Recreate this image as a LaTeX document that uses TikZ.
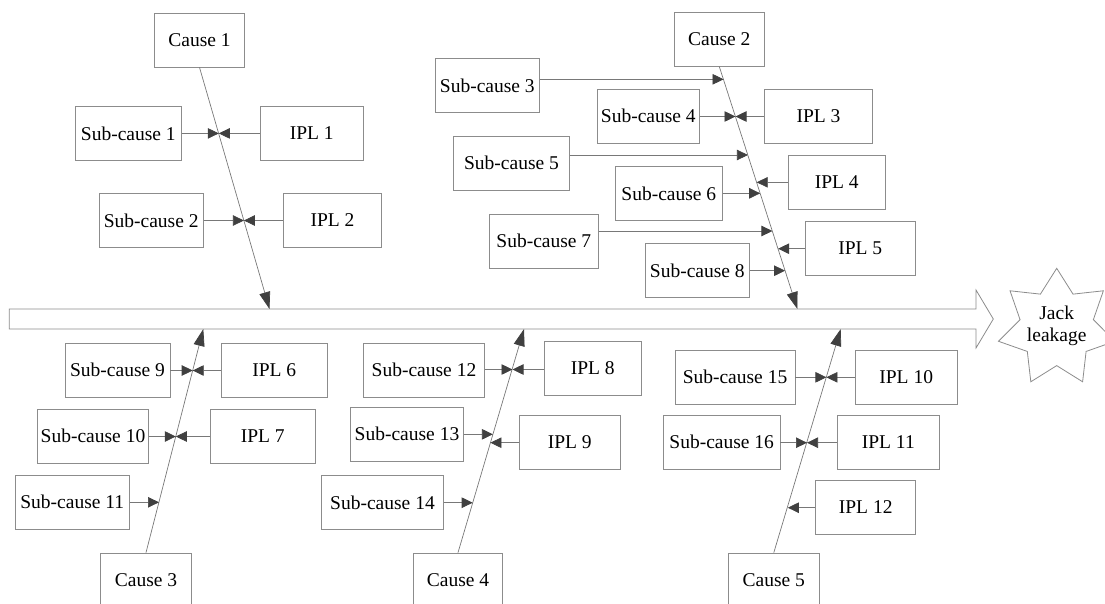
\documentclass[tikz,border=0pt]{standalone}
\usepackage{fontspec}
\setmainfont{Liberation Serif}
\usetikzlibrary{arrows.meta,shapes.geometric}
\definecolor{boxgray}{RGB}{140,140,140}
\definecolor{linegray}{RGB}{120,120,120}
\definecolor{tipgray}{RGB}{64,64,64}
\begin{document}
\begin{tikzpicture}[x=1pt,y=-1pt,
  box/.style={draw=boxgray,line width=0.8pt,minimum height=54pt,inner sep=0pt,
    font=\fontsize{19.5}{22}\selectfont},
  arr/.style={draw=linegray,line width=0.7pt,-{Triangle[length=11pt,width=10.5pt,color=tipgray]}},
  bigarr/.style={draw=linegray,line width=0.7pt,-{Triangle[length=17pt,width=11pt,color=tipgray]}}
]
\useasboundingbox (0,0) rectangle (1105,603);

% spine
\draw[draw=boxgray,line width=0.8pt,fill=white] (9.3,309) -- (976,309) -- (976,290) -- (993.3,319)
  -- (976,348) -- (976,329) -- (9.3,329) -- cycle;

% goal star
\begin{scope}[shift={(1056.7,328)}]
\draw[draw=boxgray,line width=0.8pt,fill=white] (-90:59.7)
  \foreach \k in {0,...,6}{ -- ({-90+\k*51.4286}:59.7) -- ({-64.2857+\k*51.4286}:37.6)} -- cycle;
\end{scope}
\node[align=center,inner sep=0pt,font=\fontsize{19.5}{22}\selectfont] (goal) at (1056.7,326) {Jack\\leakage};

\coordinate (t1) at (269.5,309);
\coordinate (t2) at (797.4,309);
\coordinate (t3) at (203.3,329);
\coordinate (t4) at (524,329);
\coordinate (t5) at (840.7,329);

% upper left
\node[box,minimum width=90.4pt] (c1) at (199.5,40) {Cause 1};
\node[box,minimum width=106.7pt] (s1) at (128.3,133.4) {Sub-cause 1};
\node[box,minimum width=103.3pt] (i1) at (311.7,133.4) {IPL 1};
\node[box,minimum width=104.3pt] (s2) at (151.2,220.5) {Sub-cause 2};
\node[box,minimum width=98.4pt] (i2) at (332.5,220.5) {IPL 2};

% upper right
\node[box,minimum width=90pt] (c2) at (719.3,39.2) {Cause 2};
\node[box,minimum width=104pt] (s3) at (487.3,85.5) {Sub-cause 3};
\node[box,minimum width=102pt] (s4) at (648.3,116.3) {Sub-cause 4};
\node[box,minimum width=108.4pt] (i3) at (818.5,116.3) {IPL 3};
\node[box,minimum width=116.4pt] (s5) at (511.5,163.2) {Sub-cause 5};
\node[box,minimum width=107pt] (s6) at (668.8,193.5) {Sub-cause 6};
\node[box,minimum width=97pt] (i4) at (836.8,182.3) {IPL 4};
\node[box,minimum width=109pt] (s7) at (543.8,241.2) {Sub-cause 7};
\node[box,minimum width=110.3pt] (i5) at (860.2,248.3) {IPL 5};
\node[box,minimum width=104pt] (s8) at (697.3,270.7) {Sub-cause 8};

% lower left
\node[box,minimum width=105pt] (s9) at (117.5,370.3) {Sub-cause 9};
\node[box,minimum width=106.3pt] (i6) at (274.2,370.3) {IPL 6};
\node[box,minimum width=111.4pt] (s10) at (93,436.3) {Sub-cause 10};
\node[box,minimum width=105.3pt] (i7) at (262.7,436.3) {IPL 7};
\node[box,minimum width=114pt] (s11) at (72.3,502.3) {Sub-cause 11};
\node[box,minimum width=90.6pt] (c3) at (146,580) {Cause 3};

% lower middle
\node[box,minimum width=121.4pt] (s12) at (424,370.3) {Sub-cause 12};
\node[box,minimum width=97pt] (i8) at (592.7,368) {IPL 8};
\node[box,minimum width=112.6pt] (s13) at (407,434.2) {Sub-cause 13};
\node[box,minimum width=100.7pt] (i9) at (569.7,442.3) {IPL 9};
\node[box,minimum width=121.6pt] (s14) at (382.5,502.5) {Sub-cause 14};
\node[box,minimum width=89.4pt] (c4) at (458,580) {Cause 4};

% lower right
\node[box,minimum width=120pt] (s15) at (735,377.3) {Sub-cause 15};
\node[box,minimum width=102.3pt] (i10) at (906.2,377.3) {IPL 10};
\node[box,minimum width=116.7pt] (s16) at (721.7,442.3) {Sub-cause 16};
\node[box,minimum width=102pt] (i11) at (888.3,442.3) {IPL 11};
\node[box,minimum width=100pt] (i12) at (865.7,507) {IPL 12};
\node[box,minimum width=91pt] (c5) at (773.8,580) {Cause 5};

% junctions
\coordinate (j1) at (218.8,133.4);
\coordinate (j2) at (243.9,220.5);
\coordinate (j3) at (723.6,79.3);
\coordinate (j4) at (735.5,116.5);
\coordinate (j5) at (747.9,155);
\coordinate (j6) at (760.2,193.3);
\coordinate (j7) at (756.7,182.3);
\coordinate (j8) at (772.4,231);
\coordinate (j9) at (778.1,248.7);
\coordinate (j10) at (785.1,270.7);
\coordinate (j11) at (192.7,370.5);
\coordinate (j12) at (175.8,436.5);
\coordinate (j13) at (159.0,502.3);
\coordinate (j14) at (512.5,369.5);
\coordinate (j15) at (492.9,434.3);
\coordinate (j16) at (490.4,442.7);
\coordinate (j17) at (472.7,502.7);
\coordinate (j18) at (826.4,377.3);
\coordinate (j19) at (807,442.7);
\coordinate (j20) at (787.8,507.7);

% cause lines
\draw[bigarr] (c1.south) -- (t1);
\draw[bigarr] (c2.south) -- (t2);
\draw[bigarr] (c3.north) -- (t3);
\draw[bigarr] (c4.north) -- (t4);
\draw[bigarr] (c5.north) -- (t5);

% sub-cause / IPL arrows
\draw[arr] (s1.east |- j1) -- (j1);
\draw[arr] (i1.west |- j1) -- (j1);
\draw[arr] (s2.east |- j2) -- (j2);
\draw[arr] (i2.west |- j2) -- (j2);

\draw[arr] (s3.east |- j3) -- (j3);
\draw[arr] (s4.east |- j4) -- (j4);
\draw[arr] (i3.west |- j4) -- (j4);
\draw[arr] (s5.east |- j5) -- (j5);
\draw[arr] (s6.east |- j6) -- (j6);
\draw[arr] (i4.west |- j7) -- (j7);
\draw[arr] (s7.east |- j8) -- (j8);
\draw[arr] (i5.west |- j9) -- (j9);
\draw[arr] (s8.east |- j10) -- (j10);

\draw[arr] (s9.east |- j11) -- (j11);
\draw[arr] (i6.west |- j11) -- (j11);
\draw[arr] (s10.east |- j12) -- (j12);
\draw[arr] (i7.west |- j12) -- (j12);
\draw[arr] (s11.east |- j13) -- (j13);

\draw[arr] (s12.east |- j14) -- (j14);
\draw[arr] (i8.west |- j14) -- (j14);
\draw[arr] (s13.east |- j15) -- (j15);
\draw[arr] (i9.west |- j16) -- (j16);
\draw[arr] (s14.east |- j17) -- (j17);

\draw[arr] (s15.east |- j18) -- (j18);
\draw[arr] (i10.west |- j18) -- (j18);
\draw[arr] (s16.east |- j19) -- (j19);
\draw[arr] (i11.west |- j19) -- (j19);
\draw[arr] (i12.west |- j20) -- (j20);
\end{tikzpicture}
\end{document}
